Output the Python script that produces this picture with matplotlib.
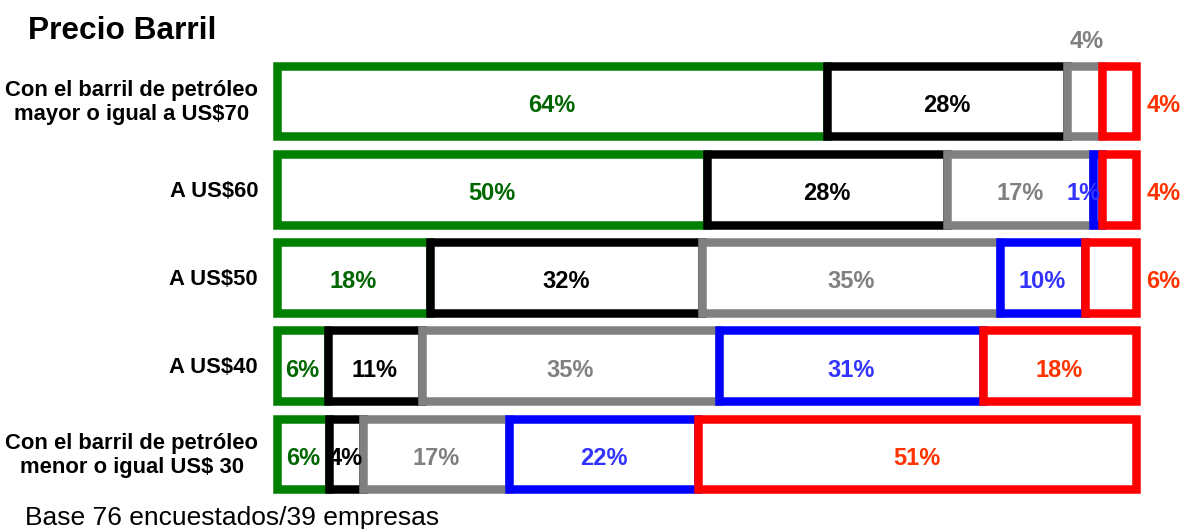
import numpy as np
import matplotlib
matplotlib.use("Agg")
import matplotlib.pyplot as plt

# data
categories = [
    "Con el barril de petróleo\nmayor o igual a US$70",
    "A US$60",
    "A US$50",
    "A US$40",
    "Con el barril de petróleo\nmenor o igual US$ 30",
]
green = [64, 50, 18, 6, 6]
black = [28, 28, 32, 11, 4]
gray = [4, 17, 35, 35, 17]
blue = [0, 1, 10, 31, 22]
red = [4, 4, 6, 18, 51]

series = [green, black, gray, blue, red]
edge_colors = ["#008000", "#000000", "#808080", "#0000FF", "#FF0000"]
text_colors = ["#006600", "#000000", "#808080", "#3333FF", "#FF3300"]

plt.rcParams["font.family"] = ["Liberation Sans", "DejaVu Sans"]

fig = plt.figure(figsize=(11.85, 5.29), dpi=100)
ax = fig.add_axes([277 / 1185, 1 - 498 / 529, (1136 - 277) / 1185, (498 - 57) / 529])

vals = np.array(series, dtype=float)
totals = vals.sum(axis=0)
y = np.arange(len(categories))
lw = 8.5 * 72 / 100

left = np.zeros(len(categories))
for k, s in enumerate(series):
    w = np.array(s) / totals * 100
    for i in range(len(categories)):
        if s[i] == 0:
            continue
        ax.barh(y[i], w[i], left=left[i], height=0.8, color="white",
                edgecolor=edge_colors[k], linewidth=lw, joinstyle="miter",
                clip_on=False)
        txt = f"{s[i]}%"
        cx = left[i] + w[i] / 2
        kw = dict(color=text_colors[k], fontsize=17, fontweight="bold",
                  va="center", clip_on=False)
        if k == 4 and s[i] <= 6:
            ax.text(101.2, y[i] + 0.05, txt, ha="left", **kw)
        elif k == 2 and s[i] <= 4:
            ax.text(cx + 0.3, y[i] - 0.68, txt, ha="center", **kw)
        elif k == 3 and s[i] <= 1:
            ax.text(left[i] + w[i] - 0.1, y[i] + 0.05, txt, ha="right", **kw)
        else:
            ax.text(cx, y[i] + 0.05, txt, ha="center", **kw)
    left += w

for i, c in enumerate(categories):
    ax.text(-2.2, y[i] + 0.02, c, ha="right", va="center", multialignment="center",
            fontsize=15.8, fontweight="bold", clip_on=False)

ax.set_xlim(0, 100)
ax.set_ylim(4.5, -0.5)
ax.axis("off")

fig.text(28 / 1185, 1 - 39 / 529, "Precio Barril", fontsize=22.8,
         fontweight="bold", va="baseline", ha="left")
fig.text(25 / 1185, 1 - 525 / 529, "Base 76 encuestados/39 empresas",
         fontsize=19, va="baseline", ha="left")

fig.savefig("out.png", dpi=100)
